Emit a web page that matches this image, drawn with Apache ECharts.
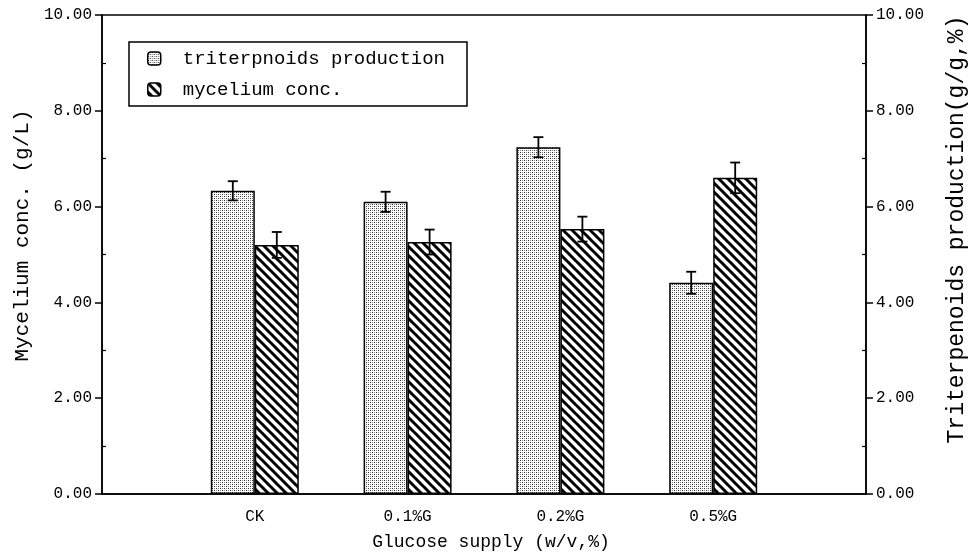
<!DOCTYPE html>
<html>
<head>
<meta charset="utf-8">
<script src="https://cdn.jsdelivr.net/npm/echarts@6/dist/echarts.min.js"></script>
<style>
  html, body { margin: 0; padding: 0; background: #fff; }
  #chart { width: 973px; height: 553px; }
</style>
</head>
<body>
<div id="chart"></div>
<script>
// chart data
const categories = ['CK', '0.1%G', '0.2%G', '0.5%G'];
const triterpenoids = [6.33, 6.10, 7.24, 4.41];
const triterpenoidsErr = [0.20, 0.21, 0.21, 0.23];
const mycelium = [5.20, 5.26, 5.53, 6.60];
const myceliumErr = [0.27, 0.26, 0.26, 0.32];
const yTicks = [0, 2, 4, 6, 8, 10];

const FONT = '"Liberation Mono", monospace';

// empty slot on each side so the groups sit at 1..4 of a 0..5 axis
const xData = [''].concat(categories, ['']);

// fill patterns
function dotPattern() {
    const c = document.createElement('canvas');
    c.width = 4; c.height = 4;
    const g = c.getContext('2d');
    g.fillStyle = '#fff';
    g.fillRect(0, 0, 4, 4);
    g.fillStyle = '#333';
    g.fillRect(0, 0, 1, 1);
    g.fillRect(2, 2, 1, 1);
    g.fillStyle = '#888';
    g.fillRect(0, 2, 1, 1);
    g.fillRect(2, 0, 1, 1);
    return c;
}

function hatchPattern() {
    const s = 9;
    const c = document.createElement('canvas');
    c.width = s; c.height = s;
    const g = c.getContext('2d');
    g.fillStyle = '#fff';
    g.fillRect(0, 0, s, s);
    g.strokeStyle = '#000';
    g.lineWidth = 3;
    for (let k = -1; k <= 1; k++) {
        g.beginPath();
        g.moveTo(k * s - 1, -1);
        g.lineTo(k * s + s + 1, s + 1);
        g.stroke();
    }
    return c;
}

const BAR_W = 44;

function errorSeries(values, errs, offset) {
    return {
        type: 'custom',
        z: 5,
        silent: true,
        data: values.map((v, i) => [i + 1, v, errs[i]]),
        renderItem: (params, api) => {
            const x = api.value(0), y = api.value(1), e = api.value(2);
            const hi = api.coord([x, y + e]);
            const lo = api.coord([x, y - e]);
            const cx = hi[0] + offset;
            const st = { stroke: '#000', lineWidth: 1.8 };
            return {
                type: 'group',
                children: [
                    { type: 'line', shape: { x1: cx, y1: hi[1], x2: cx, y2: lo[1] }, style: st },
                    { type: 'line', shape: { x1: cx - 5, y1: hi[1], x2: cx + 5, y2: hi[1] }, style: st },
                    { type: 'line', shape: { x1: cx - 5, y1: lo[1], x2: cx + 5, y2: lo[1] }, style: st }
                ]
            };
        }
    };
}

function yAxisBase(pos) {
    return {
        type: 'value',
        position: pos,
        min: 0,
        max: 10,
        interval: 2,
        splitLine: { show: false }
    };
}

const chart = echarts.init(document.getElementById('chart'));

const option = {
    backgroundColor: '#fff',
    animation: false,
    textStyle: { fontFamily: FONT, color: '#000' },
    grid: {
        left: 102, right: 107, top: 15, bottom: 59,
        show: true, borderColor: '#000', borderWidth: 1.5,
        containLabel: false, outerBoundsMode: 'none'
    },
    legend: {
        data: ['triterpnoids production', 'mycelium conc.'],
        orient: 'vertical',
        left: 129,
        top: 42,
        padding: [7, 22, 7, 18],
        itemGap: 12,
        itemWidth: 13,
        itemHeight: 13,
        borderColor: '#000',
        borderWidth: 1.5,
        backgroundColor: '#fff',
        itemStyle: { borderColor: '#000', borderWidth: 1.5 },
        textStyle: { fontFamily: FONT, fontSize: 19, color: '#000', padding: [0, 0, 0, 17] }
    },
    xAxis: {
        type: 'category',
        data: xData,
        boundaryGap: false,
        name: 'Glucose supply (w/v,%)',
        nameLocation: 'middle',
        nameGap: 39,
        nameTextStyle: { fontFamily: FONT, fontSize: 18, color: '#000', padding: [0, 0, 0, 14] },
        axisLine: { lineStyle: { color: '#000', width: 1.5 } },
        axisTick: { show: false },
        axisLabel: { interval: 0, margin: 15, fontFamily: FONT, fontSize: 16, color: '#000' },
        splitLine: { show: false }
    },
    yAxis: [
        Object.assign(yAxisBase('left'), {
            name: 'Mycelium conc. (g/L)',
            nameLocation: 'middle',
            nameRotate: 90,
            nameGap: 63,
            nameTextStyle: { fontFamily: FONT, fontSize: 21, color: '#000', padding: [0, 0, 0, 38] },
            axisLine: { show: true, lineStyle: { color: '#000', width: 1.5 } },
            axisTick: { show: true, inside: false, length: 7, lineStyle: { color: '#000', width: 1.5 } },
            axisLabel: { margin: 10, fontFamily: FONT, fontSize: 16, color: '#000',
                formatter: v => yTicks.includes(v) ? v.toFixed(2) : '' }
        }),
        Object.assign(yAxisBase('right'), {
            name: 'Triterpenoids production(g/g,%)',
            nameLocation: 'middle',
            nameRotate: 90,
            nameGap: 79,
            nameTextStyle: { fontFamily: FONT, fontSize: 23, color: '#000', padding: [0, 0, 0, 50] },
            axisLine: { show: true, lineStyle: { color: '#000', width: 1.5 } },
            axisTick: { show: true, inside: false, length: 7, lineStyle: { color: '#000', width: 1.5 } },
            axisLabel: { margin: 10, fontFamily: FONT, fontSize: 16, color: '#000',
                formatter: v => yTicks.includes(v) ? v.toFixed(2) : '' }
        }),
        // inward minor ticks
        Object.assign(yAxisBase('left'), {
            axisLine: { show: false },
            axisTick: { show: false, inside: true },
            axisLabel: { show: false },
            minorTick: { show: true, splitNumber: 2, length: 4, lineStyle: { color: '#000', width: 1.2 } }
        }),
        Object.assign(yAxisBase('right'), {
            axisLine: { show: false },
            axisTick: { show: false, inside: true },
            axisLabel: { show: false },
            minorTick: { show: true, splitNumber: 2, length: 4, lineStyle: { color: '#000', width: 1.2 } }
        })
    ],
    series: [
        {
            name: 'triterpnoids production',
            type: 'bar',
            yAxisIndex: 1,
            barWidth: BAR_W,
            barGap: '0%',
            data: [null].concat(triterpenoids, [null]),
            itemStyle: { color: { image: dotPattern(), repeat: 'repeat' }, borderColor: '#000', borderWidth: 1.5 }
        },
        {
            name: 'mycelium conc.',
            type: 'bar',
            yAxisIndex: 0,
            barWidth: BAR_W,
            barGap: '0%',
            data: [null].concat(mycelium, [null]),
            itemStyle: { color: { image: hatchPattern(), repeat: 'repeat' }, borderColor: '#000', borderWidth: 1.5 }
        },
        Object.assign(errorSeries(triterpenoids, triterpenoidsErr, -BAR_W / 2), { yAxisIndex: 1 }),
        Object.assign(errorSeries(mycelium, myceliumErr, BAR_W / 2), { yAxisIndex: 0 })
    ]
};

chart.setOption(option);
</script>
</body>
</html>
